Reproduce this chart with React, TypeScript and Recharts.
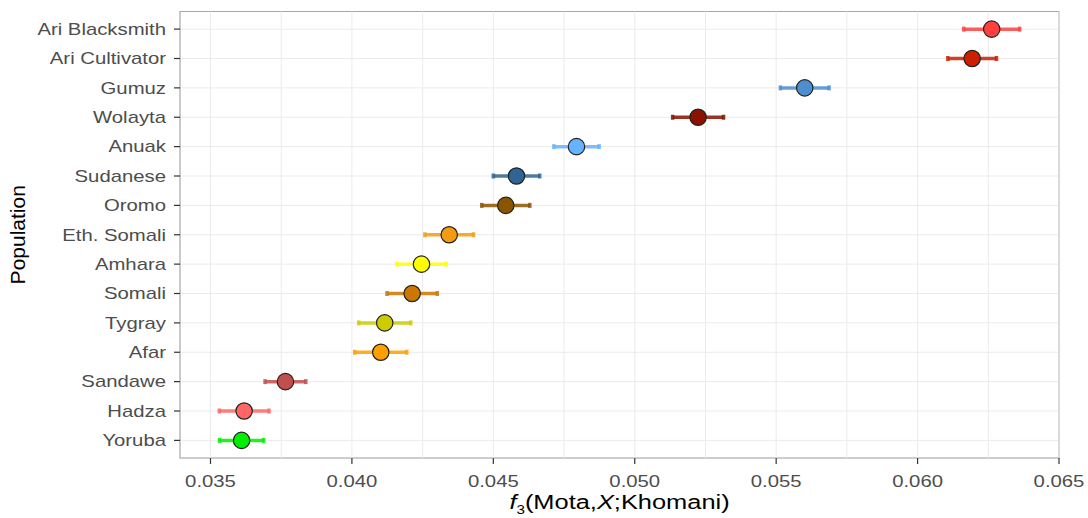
import { ScatterChart, Scatter, XAxis, YAxis, CartesianGrid, ErrorBar, ReferenceLine, ReferenceArea, Label } from "recharts"

const populations = [
  "Ari Blacksmith",
  "Ari Cultivator",
  "Gumuz",
  "Wolayta",
  "Anuak",
  "Sudanese",
  "Oromo",
  "Eth. Somali",
  "Amhara",
  "Somali",
  "Tygray",
  "Afar",
  "Sandawe",
  "Hadza",
  "Yoruba",
]
const f3Values = [
  0.06262, 0.06193, 0.05601, 0.05224, 0.04794, 0.04582, 0.04544, 0.04344, 0.04246, 0.04213, 0.04116, 0.04102,
  0.03765, 0.03619, 0.0361,
]
const f3Errors = [
  0.00099, 0.00086, 0.00086, 0.0009, 0.0008, 0.00082, 0.00085, 0.00086, 0.00087, 0.00089, 0.00092, 0.00092, 0.00072,
  0.00088, 0.00078,
]
const pointColors = [
  "#ff4040",
  "#cd2000",
  "#4b8fcf",
  "#8b1200",
  "#66b3ff",
  "#2f6494",
  "#8b5500",
  "#f39c12",
  "#ffff00",
  "#cc7700",
  "#cccc00",
  "#ffa000",
  "#c0504d",
  "#ff6666",
  "#00ee00",
]
const xTicks = [0.035, 0.04, 0.045, 0.05, 0.055, 0.06, 0.065]
const xGridLines = [0.035, 0.0375, 0.04, 0.0425, 0.045, 0.0475, 0.05, 0.0525, 0.055, 0.0575, 0.06, 0.0625, 0.065]

const xDomain: [number, number] = [0.033922, 0.065]
const yDomain: [number, number] = [-0.6, populations.length - 0.4]
const font = '"Liberation Sans", Arial, sans-serif'
const stretch = 1.27

const rows = populations.map((name, i) => ({ name, x: f3Values[i], y: i, err: f3Errors[i] }))

function YTick({ x, y, payload }: any) {
  return (
    <g transform={`translate(${x},${y})`}>
      <text transform={`scale(${stretch},1)`} textAnchor="end" dy="0.36em" fontSize={16} fill="#4d4d4d" fontFamily={font}>
        {populations[payload.value]}
      </text>
    </g>
  )
}

function XTick({ x, y, payload }: any) {
  return (
    <g transform={`translate(${x},${y})`}>
      <text transform={`scale(${stretch},1)`} textAnchor="middle" dy="0.71em" fontSize={16} fill="#4d4d4d" fontFamily={font}>
        {Number(payload.value).toFixed(3)}
      </text>
    </g>
  )
}

function XTitle({ viewBox }: any) {
  const cx = viewBox.x + viewBox.width / 2
  return (
    <g transform={`translate(${cx},${viewBox.y + 50.5})`}>
      <text transform={`scale(${stretch},1)`} textAnchor="middle" fontSize={20} fill="#000" fontFamily={font}>
        <tspan fontStyle="italic">f</tspan>
        <tspan fontSize={12} dy={5}>3</tspan>
        <tspan dy={-5}>(Mota,</tspan>
        <tspan fontStyle="italic">X</tspan>
        <tspan>;Khomani)</tspan>
      </text>
    </g>
  )
}

function YTitle({ viewBox }: any) {
  const cy = viewBox.y + viewBox.height / 2
  return (
    <text transform={`translate(25,${cy}) rotate(-90)`} textAnchor="middle" fontSize={21} fill="#000" fontFamily={font}>
      Population
    </text>
  )
}

export default function App() {
  return (
    <div style={{ position: "absolute", left: 0, top: 0, background: "#fff" }}>
      <ScatterChart width={1088} height={518} margin={{ top: 11.5, right: 29, bottom: 0, left: 0 }}>
        <CartesianGrid vertical={false} stroke="#ebebeb" strokeWidth={1} />
        {xGridLines.map((v) => (
          <ReferenceLine key={v} x={v} stroke="#ebebeb" strokeWidth={1} />
        ))}
        <XAxis
          type="number"
          dataKey="x"
          domain={xDomain}
          allowDataOverflow
          ticks={xTicks}
          interval={0}
          tick={<XTick />}
          tickSize={6}
          tickMargin={12}
          tickLine={{ stroke: "#333", strokeWidth: 1.2 }}
          axisLine={false}
          height={60}
        >
          <Label content={<XTitle />} />
        </XAxis>
        <YAxis
          type="number"
          dataKey="y"
          domain={yDomain}
          allowDataOverflow
          reversed
          ticks={populations.map((_, i) => i)}
          interval={0}
          tick={<YTick />}
          tickSize={6}
          tickMargin={8}
          tickLine={{ stroke: "#333", strokeWidth: 1.2 }}
          axisLine={false}
          width={180}
        >
          <Label content={<YTitle />} />
        </YAxis>
        {rows.map((row, i) => (
          <Scatter
            key={row.name}
            name={row.name}
            data={[row]}
            isAnimationActive={false}
            shape={(p: any) => (
              <circle cx={p.cx} cy={p.cy} r={8.2} fill={pointColors[i]} stroke="#222" strokeWidth={1.2} />
            )}
          >
            <ErrorBar
              dataKey="err"
              direction="x"
              width={2.5}
              strokeWidth={3.5}
              stroke={pointColors[i]}
              strokeOpacity={0.85}
              isAnimationActive={false}
            />
          </Scatter>
        ))}
        <ReferenceArea
          x1={xDomain[0]}
          x2={xDomain[1]}
          y1={yDomain[0]}
          y2={yDomain[1]}
          fill="none"
          fillOpacity={0}
          stroke="#a6a6a6"
          strokeWidth={1.2}
        />
      </ScatterChart>
    </div>
  )
}
